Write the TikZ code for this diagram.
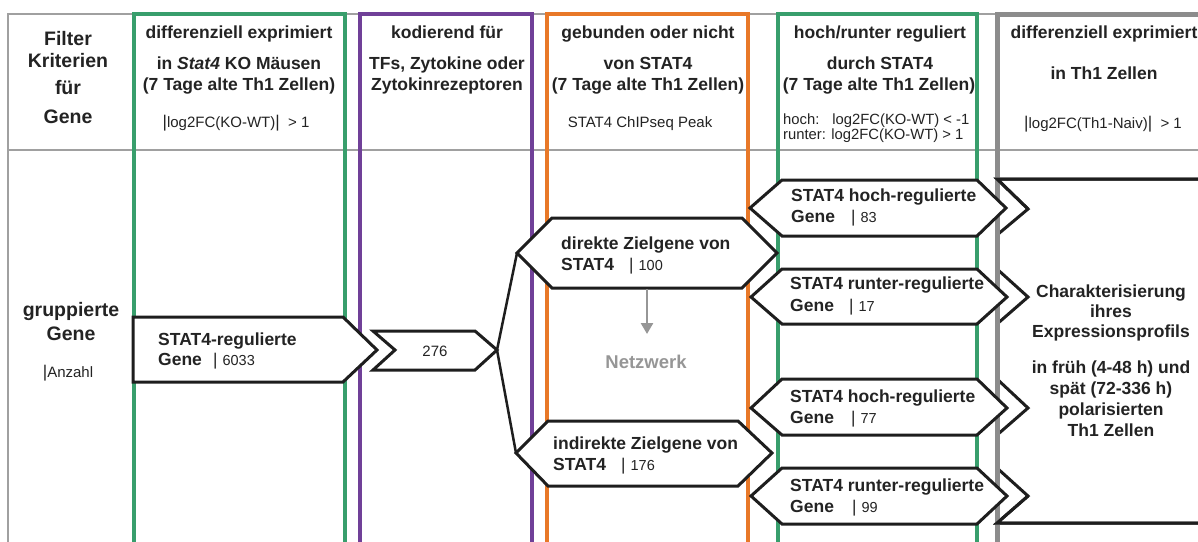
\documentclass[tikz,border=0pt]{standalone}
\usepackage{fontspec}
\setmainfont{Liberation Sans}
\newfontfamily\numfont{Liberation Sans}
\usetikzlibrary{arrows.meta}
\definecolor{cgreen}{RGB}{56,158,108}
\definecolor{cpurple}{RGB}{112,64,152}
\definecolor{corange}{RGB}{232,120,40}
\definecolor{cgraycol}{RGB}{140,140,140}
\definecolor{cgrid}{RGB}{160,160,160}
\definecolor{cdark}{RGB}{30,30,30}
\definecolor{ctext}{RGB}{35,35,35}
\definecolor{cnetz}{RGB}{150,150,150}
\newcommand\mybar{{\fontsize{17}{17}\selectfont|}}
\newcommand\cntbar[1]{\mybar\hspace{5pt}{\numfont\fontsize{14.5}{14.5}\selectfont #1}}
\tikzset{
  gridline/.style={draw=cgrid, line width=2.5pt},
  colbox/.style={line width=4pt},
  shapebox/.style={draw=cdark, fill=white, line width=3pt, line join=miter},
  hd/.style={font=\fontsize{17.5}{21}\selectfont\bfseries, text=ctext, inner sep=0pt, anchor=base},
  bighd/.style={font=\fontsize{19.5}{24}\selectfont\bfseries, text=ctext, inner sep=0pt, anchor=base},
  smalltxt/.style={font=\fontsize{15}{15}\selectfont, text=ctext, inner sep=0pt, anchor=base},
  tinytxt/.style={font=\fontsize{14.8}{15}\selectfont, text=ctext, inner sep=0pt, anchor=base west},
  boxtxt/.style={font=\fontsize{17.5}{21}\selectfont\bfseries, text=ctext, inner sep=0pt, anchor=base west},
  cnt/.style={text=ctext, inner sep=0pt, anchor=base west},
  conn/.style={draw=cdark, line width=2.5pt},
}
\begin{document}
\begin{tikzpicture}[x=1pt,y=-1pt]
\useasboundingbox[fill=white] (0,0) rectangle (1198,541);
% grid
\draw[gridline] (8,545) -- (8,14) -- (1205,14);
\draw[gridline] (8,150) -- (1205,150);
% columns
\draw[colbox, draw=cgreen] (134,545) -- (134,14) -- (345,14) -- (345,545);
\draw[colbox, draw=cpurple] (360,545) -- (360,14) -- (532,14) -- (532,545);
\draw[colbox, draw=corange] (547,545) -- (547,14) -- (748,14) -- (748,545);
\draw[colbox, draw=cgreen] (778,545) -- (778,14) -- (977,14) -- (977,545);
% big right shape
\draw[shapebox] (997,179) -- (1210,179) -- (1210,523) -- (997,523) -- (1028,496) -- (997,468)
  -- (997,435) -- (1028,408) -- (997,379) -- (997,324) -- (1028,297) -- (997,269)
  -- (997,235) -- (1028,209) -- cycle;
\draw[line width=5pt, draw=cgraycol] (997,545) -- (997,14) -- (1210,14);
\draw[shapebox, fill=none] (1028,209) -- (997,179) -- (1210,179);
\draw[shapebox, fill=none] (1028,496) -- (997,523) -- (1210,523);
% shapes
\draw[shapebox] (133,317) -- (343,317) -- (377,350) -- (343,382) -- (133,382) -- cycle;
\draw[shapebox] (373,331) -- (475,331) -- (497,350) -- (475,370) -- (373,370) -- (395,350) -- cycle;
\coordinate (tip276) at (497,350);
\draw[shapebox] (517,253) -- (552,218) -- (742,218) -- (777,253) -- (742,288) -- (552,288) -- cycle;
\coordinate (dirL) at (517,253);
\coordinate (dirB) at (647,289);
\draw[shapebox] (516,453) -- (548,421) -- (738,421) -- (772,453) -- (738,486) -- (548,486) -- cycle;
\coordinate (indL) at (516,453);
\draw[shapebox] (750,208) -- (782,180) -- (977,180) -- (1006,208) -- (977,236) -- (782,236) -- cycle;
\draw[shapebox] (751,297) -- (782,269) -- (977,269) -- (1007,297) -- (977,324) -- (782,324) -- cycle;
\draw[shapebox] (751,408) -- (782,379) -- (977,379) -- (1007,408) -- (977,435) -- (782,435) -- cycle;
\draw[shapebox] (751,496) -- (782,468) -- (977,468) -- (1007,496) -- (977,524) -- (782,524) -- cycle;
% connectors
\draw[conn] (tip276) -- (dirL);
\draw[conn] (tip276) -- (indL);
\coordinate (netzin) at (647,334);
\draw[line width=2.5pt, draw=cnetz, -{Triangle[width=12pt,length=11pt]}] (dirB) -- (netzin);
% header texts
\node[bighd] (f1) at (68,45) {Filter};
\node[bighd] (f2) at (68,67) {Kriterien};
\node[bighd] (f3) at (68,94) {für};
\node[bighd] (f4) at (68,123) {Gene};
\node[hd] (a1) at (239,38) {differenziell exprimiert};
\node[hd] (a2) at (239,69) {in \textit{Stat4} KO Mäusen};
\node[hd] (a3) at (239,90) {(7 Tage alte Th1 Zellen)};
\node[smalltxt] (a4) at (236,127) {\mybar log2FC(KO-WT)\mybar\ \ > 1};
\node[hd] (b1) at (447,38) {kodierend für};
\node[hd] (b2) at (447,69) {TFs, Zytokine oder};
\node[hd] (b3) at (447,90) {Zytokinrezeptoren};
\node[hd] (c1) at (648,38) {gebunden oder nicht};
\node[hd] (c2) at (648,69) {von STAT4};
\node[hd] (c3) at (648,90) {(7 Tage alte Th1 Zellen)};
\node[smalltxt] (c4) at (640,127) {STAT4 ChIPseq Peak};
\node[hd] (d1) at (880,38) {hoch/runter reguliert};
\node[hd] (d2) at (880,69) {durch STAT4};
\node[hd] (d3) at (879,90) {(7 Tage alte Th1 Zellen)};
\node[tinytxt] (d4) at (783,124) {hoch:\hspace{13pt}log2FC(KO-WT) < -1};
\node[tinytxt] (d5) at (783,139.5) {runter: log2FC(KO-WT) > 1};
\node[hd] (e1) at (1104,38) {differenziell exprimiert};
\node[hd] (e2) at (1104,79) {in Th1 Zellen};
\node[smalltxt] (e3) at (1103,128) {\mybar log2FC(Th1-Naiv)\mybar\ \ > 1};
% left row label
\node[bighd] (g1) at (71,316) {gruppierte};
\node[bighd] (g2) at (71,340) {Gene};
\node[smalltxt] (g3) at (68,377) {\mybar Anzahl};
% box texts
\node[boxtxt] (s1) at (158,345) {STAT4-regulierte};
\node[boxtxt] (s2) at (158,365) {Gene};
\node[cnt] (s3) at (213,365) {\cntbar{6033}};
\node[font=\fontsize{15}{15}\selectfont, text=ctext, inner sep=0pt, anchor=base] (n276) at (435,356) {276};
\node[boxtxt] (t1) at (561,249) {direkte Zielgene von};
\node[boxtxt] (t2) at (561,270) {STAT4};
\node[cnt] (t3) at (629,270) {\cntbar{100}};
\node[hd, text=cnetz, font=\fontsize{18.5}{22}\selectfont\bfseries] (netz) at (646,368) {Netzwerk};
\node[boxtxt] (u1) at (553,449) {indirekte Zielgene von};
\node[boxtxt] (u2) at (553,470) {STAT4};
\node[cnt] (u3) at (621,470) {\cntbar{176}};
\node[boxtxt] (v1) at (791,201) {STAT4 hoch-regulierte};
\node[boxtxt] (v2) at (791,222) {Gene};
\node[cnt] (v3) at (851,222) {\cntbar{83}};
\node[boxtxt] (w1) at (790,289) {STAT4 runter-regulierte};
\node[boxtxt] (w2) at (790,311) {Gene};
\node[cnt] (w3) at (849,311) {\cntbar{17}};
\node[boxtxt] (x1) at (790,402) {STAT4 hoch-regulierte};
\node[boxtxt] (x2) at (790,423) {Gene};
\node[cnt] (x3) at (851,423) {\cntbar{77}};
\node[boxtxt] (y1) at (790,491) {STAT4 runter-regulierte};
\node[boxtxt] (y2) at (790,512) {Gene};
\node[cnt] (y3) at (852,512) {\cntbar{99}};
% big shape text
\node[hd] (z1) at (1111,297) {Charakterisierung};
\node[hd] (z2) at (1111,317) {ihres};
\node[hd] (z3) at (1111,337) {Expressionsprofils};
\node[hd] (z4) at (1111,373) {in früh (4-48 h) und};
\node[hd] (z5) at (1111,394) {spät (72-336 h)};
\node[hd] (z6) at (1111,415) {polarisierten};
\node[hd] (z7) at (1111,436) {Th1 Zellen};
\end{tikzpicture}
\end{document}
